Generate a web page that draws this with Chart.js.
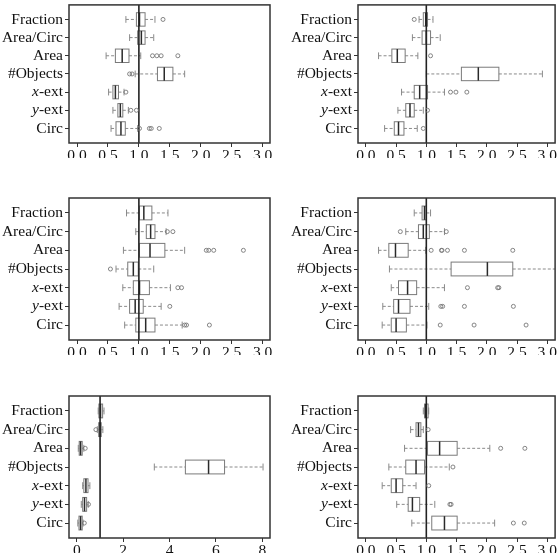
<!DOCTYPE html>
<html>
<head>
<meta charset="utf-8">
<script src="https://cdn.jsdelivr.net/npm/chart.js@4.4.1/dist/chart.umd.min.js"></script>
<style>
  body { margin: 0; background: #fff; }
  #wrap { position: relative; width: 560px; height: 553px; overflow: hidden; }
  canvas { position: absolute; }
</style>
</head>
<body>
<div id="wrap">
  <canvas id="pa" width="280" height="185" style="left:0;top:0"></canvas>
  <canvas id="pb" width="280" height="185" style="left:280px;top:0"></canvas>
  <canvas id="pc" width="280" height="195" style="left:0;top:185px"></canvas>
  <canvas id="pd" width="280" height="195" style="left:280px;top:185px"></canvas>
  <canvas id="pe" width="280" height="173" style="left:0;top:380px"></canvas>
  <canvas id="pf" width="280" height="173" style="left:280px;top:380px"></canvas>
</div>
<script>
var categories = ['Fraction', 'Area/Circ', 'Area', '#Objects', 'x-ext', 'y-ext', 'Circ'];
var ticksSmall = [0, 0.5, 1, 1.5, 2, 2.5, 3];
var ticksLarge = [0, 2, 4, 6, 8];

// top left
var loA  = [0.79, 0.85, 0.47, 0.94, 0.51, 0.58, 0.55];
var q1A  = [0.96, 0.98, 0.62, 1.30, 0.58, 0.66, 0.63];
var medA = [1.01, 1.04, 0.73, 1.41, 0.62, 0.70, 0.71];
var q3A  = [1.10, 1.10, 0.84, 1.55, 0.67, 0.74, 0.78];
var hiA  = [1.26, 1.24, 1.03, 1.74, 0.76, 0.83, 0.98];
var outA = [[1.39], [], [1.22, 1.29, 1.36, 1.63], [0.85, 0.89], [0.79], [0.87, 0.96], [1.01, 1.17, 1.20, 1.33]];

// top right
var loB  = [0.88, 0.77, 0.21, 1.00, 0.59, 0.53, 0.31];
var q1B  = [0.95, 0.93, 0.43, 1.58, 0.80, 0.66, 0.47];
var medB = [0.99, 1.00, 0.52, 1.86, 0.89, 0.73, 0.54];
var q3B  = [1.02, 1.07, 0.65, 2.20, 1.02, 0.80, 0.63];
var hiB  = [1.11, 1.23, 0.86, 2.92, 1.30, 0.95, 0.85];
var outB = [[0.80], [], [1.07], [], [1.40, 1.49, 1.67], [1.02], [0.95]];

// middle left
var loC  = [0.80, 0.95, 0.75, 0.63, 0.74, 0.68, 0.77];
var q1C  = [1.01, 1.12, 1.01, 0.82, 0.91, 0.85, 0.95];
var medC = [1.08, 1.19, 1.18, 0.91, 1.01, 0.94, 1.11];
var q3C  = [1.21, 1.26, 1.42, 0.99, 1.17, 1.07, 1.26];
var hiC  = [1.47, 1.44, 1.74, 1.24, 1.51, 1.36, 1.70];
var outC = [[], [1.46, 1.55], [2.09, 2.13, 2.21, 2.69], [0.54], [1.63, 1.69], [1.50], [1.74, 1.77, 2.14]];

// middle right
var loD  = [0.80, 0.66, 0.21, 0.39, 0.42, 0.28, 0.27];
var q1D  = [0.93, 0.87, 0.38, 1.41, 0.54, 0.46, 0.42];
var medD = [0.97, 0.95, 0.49, 2.01, 0.69, 0.54, 0.50];
var q3D  = [1.00, 1.05, 0.70, 2.43, 0.84, 0.73, 0.67];
var hiD  = [1.07, 1.30, 0.99, 3.25, 1.30, 1.04, 1.01];
var outD = [[], [0.57, 1.33], [1.08, 1.25, 1.26, 1.35, 1.63, 2.43], [], [1.68, 2.18, 2.20], [1.24, 1.27, 1.63, 2.44], [1.23, 1.79, 2.65]];

// bottom left
var loE  = [0.92, 0.88, 0.06, 3.34, 0.25, 0.19, 0.04];
var q1E  = [0.95, 0.94, 0.10, 4.68, 0.30, 0.25, 0.09];
var medE = [1.02, 1.00, 0.16, 5.68, 0.39, 0.33, 0.16];
var q3E  = [1.11, 1.05, 0.23, 6.37, 0.48, 0.42, 0.23];
var hiE  = [1.17, 1.12, 0.30, 8.03, 0.56, 0.49, 0.27];
var outE = [[], [0.82], [0.36], [], [], [0.50], [0.32]];

// bottom right
var loF  = [0.95, 0.74, 0.64, 0.38, 0.27, 0.51, 0.76];
var q1F  = [0.97, 0.83, 1.02, 0.66, 0.42, 0.70, 1.09];
var medF = [0.99, 0.87, 1.22, 0.83, 0.50, 0.77, 1.30];
var q3F  = [1.03, 0.91, 1.51, 0.97, 0.61, 0.89, 1.51];
var hiF  = [1.04, 0.95, 2.05, 1.38, 0.83, 1.14, 2.13];
var outF = [[], [1.03], [2.23, 2.63], [1.44], [1.04], [1.39, 1.41], [2.44, 2.62]];

var FONT = "'Liberation Serif', serif";
var LABEL_SIZE = 15.5;

function line(ctx, x0, y0, x1, y1) {
    ctx.beginPath();
    ctx.moveTo(x0, y0);
    ctx.lineTo(x1, y1);
    ctx.stroke();
}

function boxPlugin(s) {
    return {
        id: 'boxes',
        beforeDatasetsDraw: function (chart) {
            var ctx = chart.ctx, a = chart.chartArea;
            var xs = chart.scales.x, ys = chart.scales.y;
            ctx.save();
            ctx.beginPath();
            ctx.rect(a.left, a.top, a.right - a.left, a.bottom - a.top);
            ctx.clip();
            for (var i = 0; i < categories.length; i++) {
                var cy = ys.getPixelForValue(i);
                var h = Math.abs(ys.getPixelForValue(i + 0.37) - cy);
                var c = h * 0.5;
                var pLo = xs.getPixelForValue(s.lo[i]);
                var pQ1 = xs.getPixelForValue(s.q1[i]);
                var pMed = xs.getPixelForValue(s.med[i]);
                var pQ3 = xs.getPixelForValue(s.q3[i]);
                var pHi = xs.getPixelForValue(s.hi[i]);
                // whiskers
                ctx.strokeStyle = '#8a8a8a';
                ctx.lineWidth = 1;
                ctx.setLineDash([3, 2]);
                line(ctx, pLo, cy, pQ1, cy);
                line(ctx, pQ3, cy, pHi, cy);
                ctx.setLineDash([]);
                line(ctx, pLo, cy - c, pLo, cy + c);
                line(ctx, pHi, cy - c, pHi, cy + c);
                // box
                ctx.strokeStyle = '#7a7a7a';
                ctx.strokeRect(pQ1, cy - h, pQ3 - pQ1, 2 * h);
                // median
                ctx.strokeStyle = '#2a2a2a';
                ctx.lineWidth = 1.5;
                line(ctx, pMed, cy - h, pMed, cy + h);
            }
            // reference line at 1
            var p1 = xs.getPixelForValue(1);
            ctx.strokeStyle = '#222';
            ctx.lineWidth = 1.6;
            line(ctx, p1, a.top, p1, a.bottom);
            ctx.restore();
        },
        afterDraw: function (chart) {
            var ctx = chart.ctx, a = chart.chartArea, ys = chart.scales.y;
            ctx.save();
            ctx.strokeStyle = '#333';
            ctx.lineWidth = 1.5;
            ctx.strokeRect(a.left, a.top, a.right - a.left, a.bottom - a.top);
            // category labels, with the x / y variable in italics
            ctx.fillStyle = '#111';
            ctx.textBaseline = 'middle';
            ctx.textAlign = 'right';
            for (var i = 0; i < categories.length; i++) {
                var lab = categories[i];
                var cy = ys.getPixelForValue(i);
                var right = a.left - 6;
                ctx.font = LABEL_SIZE + 'px ' + FONT;
                if (lab.indexOf('x-') === 0 || lab.indexOf('y-') === 0) {
                    var rest = lab.slice(1);
                    var wRest = ctx.measureText(rest).width;
                    ctx.fillText(rest, right, cy);
                    ctx.font = 'italic ' + LABEL_SIZE + 'px ' + FONT;
                    ctx.fillText(lab.charAt(0), right - wRest, cy);
                } else {
                    ctx.fillText(lab, right, cy);
                }
            }
            ctx.restore();
        }
    };
}

function makePanel(id, s, xMin, xMax, xTicks, decimals, yWidth, pad) {
    var points = [];
    for (var i = 0; i < s.out.length; i++) {
        for (var j = 0; j < s.out[i].length; j++) {
            points.push({ x: s.out[i][j], y: i });
        }
    }
    return new Chart(document.getElementById(id), {
        type: 'scatter',
        data: {
            datasets: [{
                data: points,
                pointRadius: 2,
                pointStyle: 'circle',
                borderColor: '#777',
                borderWidth: 0.9,
                backgroundColor: 'rgba(0,0,0,0)'
            }]
        },
        options: {
            responsive: false,
            animation: false,
            events: [],
            layout: { padding: pad },
            plugins: { legend: { display: false }, tooltip: { enabled: false } },
            scales: {
                x: {
                    type: 'linear',
                    min: xMin,
                    max: xMax,
                    afterBuildTicks: function (scale) {
                        scale.ticks = xTicks.map(function (v) { return { value: v }; });
                    },
                    afterFit: function (scale) { scale.height = 15; },
                    border: { display: false },
                    grid: { drawOnChartArea: false, drawTicks: true, tickLength: 4, color: '#333' },
                    ticks: {
                        padding: 0,
                        maxRotation: 0,
                        autoSkip: false,
                        color: '#111',
                        font: { family: FONT, size: LABEL_SIZE },
                        callback: function (v) { return decimals ? v.toFixed(decimals) : String(v); }
                    }
                },
                y: {
                    type: 'linear',
                    min: -0.8,
                    max: 6.8,
                    reverse: true,
                    afterBuildTicks: function (scale) {
                        scale.ticks = categories.map(function (c, i) { return { value: i }; });
                    },
                    afterFit: function (scale) { scale.width = yWidth; },
                    border: { display: false },
                    grid: { drawOnChartArea: false, drawTicks: true, tickLength: 4, color: '#333' },
                    ticks: { display: false }
                }
            }
        },
        plugins: [boxPlugin(s)]
    });
}

makePanel('pa', { lo: loA, q1: q1A, med: medA, q3: q3A, hi: hiA, out: outA },
    -0.13, 3.12, ticksSmall, 1, 69, { left: 0, right: 10, top: 1, bottom: 27 });
makePanel('pb', { lo: loB, q1: q1B, med: medB, q3: q3B, hi: hiB, out: outB },
    -0.13, 3.13, ticksSmall, 1, 78, { left: 0, right: 2, top: 1, bottom: 27 });
makePanel('pc', { lo: loC, q1: q1C, med: medC, q3: q3C, hi: hiC, out: outC },
    -0.13, 3.12, ticksSmall, 1, 69, { left: 0, right: 10, top: 13, bottom: 25 });
makePanel('pd', { lo: loD, q1: q1D, med: medD, q3: q3D, hi: hiD, out: outD },
    -0.13, 3.13, ticksSmall, 1, 78, { left: 0, right: 2, top: 13, bottom: 25 });
makePanel('pe', { lo: loE, q1: q1E, med: medE, q3: q3E, hi: hiE, out: outE },
    -0.34, 8.33, ticksLarge, 0, 69, { left: 0, right: 10, top: 16, bottom: 0 });
makePanel('pf', { lo: loF, q1: q1F, med: medF, q3: q3F, hi: hiF, out: outF },
    -0.13, 3.13, ticksSmall, 1, 78, { left: 0, right: 2, top: 16, bottom: 0 });
</script>
</body>
</html>
